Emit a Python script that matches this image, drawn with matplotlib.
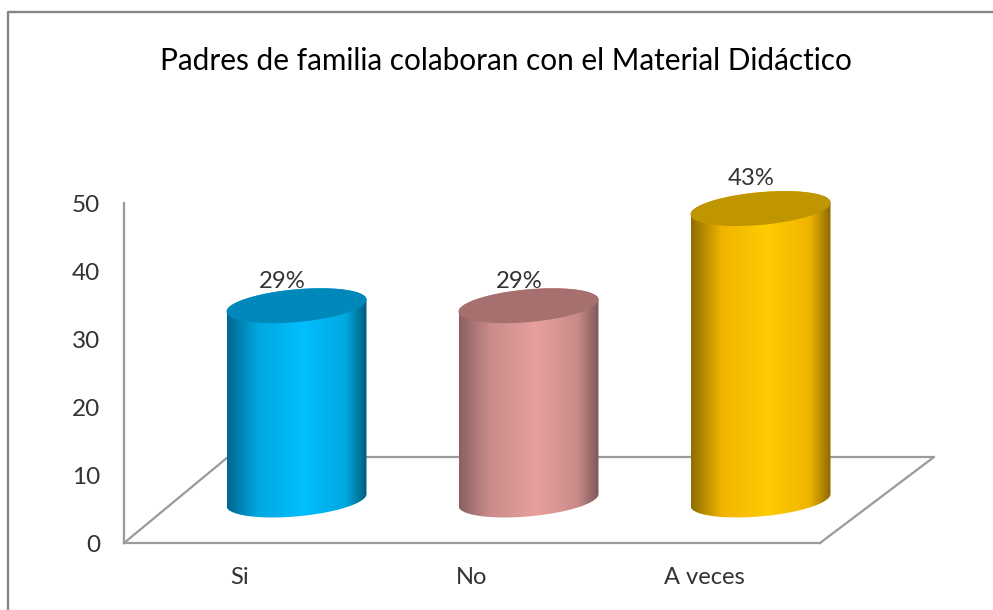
import numpy as np
import matplotlib
matplotlib.use('Agg')
import matplotlib.pyplot as plt
from matplotlib.colors import LinearSegmentedColormap
from matplotlib.lines import Line2D
from matplotlib.patches import Polygon

plt.rcParams['font.family'] = ['Lato', 'DejaVu Sans']

title = 'Padres de familia colaboran con el Material Didáctico'
categories = ['Si', 'No', 'A veces']
values = [28.57, 28.57, 42.86]
value_labels = ['29%', '29%', '43%']
y_ticks = [0, 10, 20, 30, 40, 50]

W, H = 993, 610
fig = plt.figure(figsize=(W / 100, H / 100), dpi=100, facecolor='white')
ax = fig.add_axes([124 / W, (H - 543) / H, 696 / W, 340 / H])

# pixels per data unit, the cylinders are worked out in pixels first
px_x = 696 / 3
px_y = 340 / 50
depth_left = 104 / px_x
depth_right = 114 / px_x
depth_y = 86 / px_y
bar_dx = 56.5 / px_x
bar_dy = 43 / px_y

grey = '#9a9a9a'
ax.plot([2.5, 2.5 + depth_right, -0.5 + depth_left, -0.5], [0, depth_y, depth_y, 0],
        color=grey, lw=1.6, zorder=1, clip_on=False)

# side colours: edge, mid, centre, mid, edge + colour of the lid
shades = [
    (['#00688f', '#00a8e0', '#00bfff', '#00a8e0', '#005c7e'], '#0088bb'),
    (['#8a6261', '#c98b89', '#e8a09e', '#c98b89', '#7c5857'], '#a5706e'),
    (['#8f6e00', '#f0b400', '#ffcc00', '#f0b400', '#8a6a00'], '#c09600'),
]

t = np.linspace(0, 2 * np.pi, 200)
half = np.linspace(np.pi, 2 * np.pi, 100)


def ellipse(cx, cy, tt):
    return np.column_stack([cx + 70 * np.cos(tt) / px_x,
                            cy + (6 * np.cos(tt) + 16.4 * np.sin(tt)) / px_y])


for i, v in enumerate(values):
    cx = i + bar_dx
    base = bar_dy
    top = base + v
    body = np.vstack([ellipse(cx, base, half), ellipse(cx, top, half - np.pi)])
    stops = shades[i][0]
    cmap = LinearSegmentedColormap.from_list(
        'c%d' % i, list(zip([0, 0.22, 0.55, 0.85, 1], stops)))
    grad = np.linspace(0, 1, 256).reshape(1, -1)
    im = ax.imshow(grad, cmap=cmap, aspect='auto', zorder=3,
                   extent=[cx - 70 / px_x, cx + 70 / px_x, base - 20 / px_y, top + 20 / px_y])
    patch = Polygon(body, closed=True, facecolor='none', edgecolor='none', transform=ax.transData)
    ax.add_patch(patch)
    # the cylinders stick out of the axes box, so clip to the figure and the body only
    im.set_clip_box(fig.bbox)
    im.set_clip_path(patch)
    ax.add_patch(Polygon(ellipse(cx, top, t), closed=True, facecolor=shades[i][1],
                         edgecolor='none', zorder=4, clip_on=False))

label_shift = [-10, -6.8, -7]
label_lift = [17.3, 17.3, 21.6]
for i, v in enumerate(values):
    ax.annotate(value_labels[i], (i + bar_dx, bar_dy + v), xytext=(label_shift[i], label_lift[i]),
                textcoords='offset points', ha='center', va='center',
                fontsize=17.2, color='#333333', zorder=5)

ax.set_xlim(-0.5, 2.5)
ax.set_ylim(0, 50)
ax.set_xticks(range(len(categories)), categories)
ax.set_yticks(y_ticks)
ax.tick_params(axis='x', length=0, pad=17, labelsize=17, labelcolor='#333333')
ax.tick_params(axis='y', length=0, pad=17, labelsize=17.5, labelcolor='#333333')
for s in ['top', 'right']:
    ax.spines[s].set_visible(False)
for s in ['left', 'bottom']:
    ax.spines[s].set_color(grey)
    ax.spines[s].set_linewidth(1.6)
ax.patch.set_alpha(0)

fig.text(506 / W, 1 - 61 / H, title, ha='center', va='center', fontsize=21.4, color='black')

# outer chart frame, only top and left are inside the crop
fig.add_artist(Line2D([8 / W, 8 / W, 1], [0, 1 - 12 / H, 1 - 12 / H], color='#868686', lw=1.7))

fig.savefig('out.png', dpi=100)
